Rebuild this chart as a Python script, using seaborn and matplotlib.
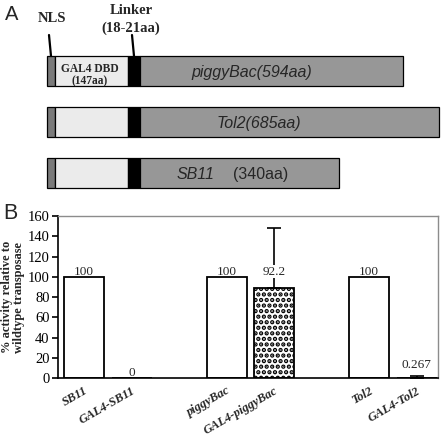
import matplotlib
matplotlib.use("Agg")
import matplotlib.pyplot as plt
import seaborn as sns

# =============================================================
# Dados
# =============================================================
# Painel A - construcoes GAL4-transposase (comprimentos em unidades de desenho)
constructs = ["piggyBac", "Tol2", "SB11"]
construct_aa = ["(594aa)", "(685aa)", "(340aa)"]
nls_len = 8
gal4_len = 73
linker_len = 12
transposase_len = [263, 299, 199]

# Painel B - atividade relativa a transposase selvagem
samples = ["SB11", "GAL4-SB11", "piggyBac", "GAL4-piggyBac", "Tol2", "GAL4-Tol2"]
activity = [100, 0, 100, 88.5, 100, 0.267]
activity_labels = ["100", "0", "100", "92.2", "100", "0.267"]
err_upper = [0, 0, 0, 59.5, 0, 1.3]
slot_order = ["SB11", "GAL4-SB11", "gap1", "piggyBac", "GAL4-piggyBac",
              "gap2", "Tol2", "GAL4-Tol2"]

# =============================================================
# Estilo
# =============================================================
sns.set_theme(style="white")
plt.rcParams["font.family"] = ["Liberation Serif", "DejaVu Serif"]
plt.rcParams["hatch.linewidth"] = 2.2
SANS = ["Liberation Sans", "DejaVu Sans"]

fig = plt.figure(figsize=(4.42, 4.36), dpi=100)

# =============================================================
# Painel A - diagrama (eixo em coordenadas de pixel)
# =============================================================
axA = fig.add_axes([0, 1 - 200 / 436, 1, 200 / 436])
axA.set_xlim(0, 442)
axA.set_ylim(200, 0)
axA.axis("off")

row_y = [71, 122, 172.5]
start = 47
seg_kw = dict(height=30, edgecolor="black", linewidth=0.9)
axA.barh(row_y, [nls_len] * 3, left=start, color="#7a7a7a", **seg_kw)
axA.barh(row_y, [gal4_len] * 3, left=start + nls_len, color="#ebebeb", **seg_kw)
axA.barh(row_y, [linker_len] * 3, left=start + nls_len + gal4_len,
         color="black", **seg_kw)
tp_left = start + nls_len + gal4_len + linker_len
axA.barh(row_y, transposase_len, left=tp_left, color="#979797", **seg_kw)

# nomes das transposases
axA.text(252, 72, constructs[0] + construct_aa[0], family=SANS, style="italic",
         fontsize=11.5, ha="center", va="center")
axA.text(259, 123, constructs[1] + construct_aa[1], family=SANS, style="italic",
         fontsize=11.5, ha="center", va="center")
axA.text(177, 174, constructs[2], family=SANS, style="italic",
         fontsize=11.5, ha="left", va="center")
axA.text(233, 174, construct_aa[2], family=SANS,
         fontsize=11.5, ha="left", va="center")

# rotulos dos dominios
axA.text(90, 69.5, "GAL4 DBD", fontweight="bold", fontsize=8.3, ha="center", va="center")
axA.text(90, 81, "(147aa)", fontweight="bold", fontsize=8.3, ha="center", va="center")
axA.text(52, 18, "NLS", fontweight="bold", fontsize=10.5, ha="center", va="center")
axA.text(131, 10, "Linker", fontweight="bold", fontsize=10.5, ha="center", va="center")
axA.text(131, 28, "(18-21aa)", fontweight="bold", fontsize=10.5, ha="center", va="center")
axA.plot([49, 51], [35, 56], color="black", lw=1.6)
axA.plot([132, 134], [35, 56], color="black", lw=1.6)

fig.text(5 / 442, 1 - 5 / 436, "A", family=SANS, fontsize=14.5, ha="left", va="top")
fig.text(3 / 442, 1 - 203 / 436, "B", family=SANS, fontsize=15.5, ha="left", va="top")

# =============================================================
# Painel B - grafico de barras
# =============================================================
axB = fig.add_axes([58 / 442, 58 / 436, 380 / 442, 162 / 436])
sns.barplot(x=samples, y=activity, order=slot_order, color="white",
            saturation=1, edgecolor="black", linewidth=1.3, width=0.84, ax=axB)

for bar in axB.patches:
    if round(bar.get_x() + bar.get_width() / 2) == slot_order.index("GAL4-piggyBac"):
        bar.set_hatch("...")

pos = [slot_order.index(s) for s in samples]
err_idx = [i for i, e in enumerate(err_upper) if e > 0]
axB.errorbar([pos[i] for i in err_idx], [activity[i] for i in err_idx],
             yerr=[[0] * len(err_idx), [err_upper[i] for i in err_idx]],
             fmt="none", ecolor="black", elinewidth=1.2, capsize=5, capthick=1.2,
             zorder=3)

for i, lab in enumerate(activity_labels):
    if err_upper[i] > 0:
        axB.annotate(lab, (pos[i], float(lab)), xytext=(0, 5), textcoords="offset points",
                     ha="center", va="bottom", fontsize=9.5, zorder=4,
                     bbox=dict(facecolor="white", edgecolor="none", pad=0.5))
    else:
        axB.annotate(lab, (pos[i], activity[i]), xytext=(0, -1), textcoords="offset points",
                     ha="center", va="bottom", fontsize=9.5, zorder=4)

axB.set_xlim(-0.55, 7.45)
axB.set_ylim(0, 160)
axB.set_yticks(range(0, 161, 20))
axB.set_xticks(range(len(slot_order)))
axB.set_xticklabels([s if s in samples else "" for s in slot_order],
                    rotation=30, ha="right", rotation_mode="anchor",
                    fontstyle="italic", fontweight="bold", fontsize=9)
axB.tick_params(axis="x", length=0, pad=5)
axB.tick_params(axis="y", direction="out", length=4, width=1.2, left=True,
                labelsize=10.5, pad=2, color="black")
for lab in axB.get_yticklabels():
    lab.set_color("black")
axB.set_xlabel("")
axB.set_ylabel("% activity relative to\nwildtype transposase", fontweight="bold",
               fontsize=9, labelpad=2, linespacing=0.95)

for side in ["left", "bottom"]:
    axB.spines[side].set_color("black")
    axB.spines[side].set_linewidth(1.2)
for side in ["top", "right"]:
    axB.spines[side].set_color("#8c8c8c")
    axB.spines[side].set_linewidth(1.0)

plt.savefig("out.png", dpi=100)
